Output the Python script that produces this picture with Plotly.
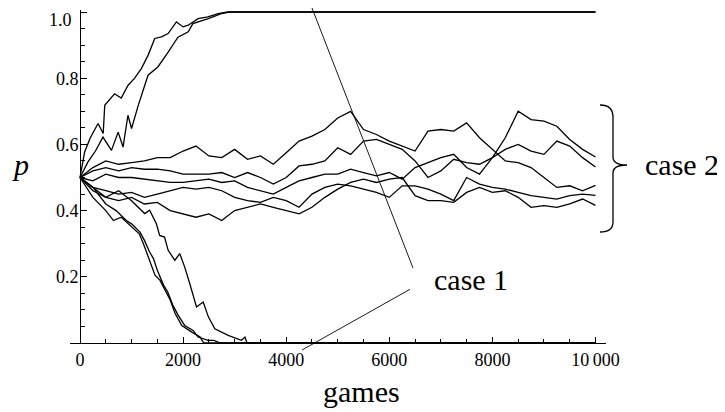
import plotly.graph_objects as go

# ---------------- data ----------------
# absorbed at p = 1
up1_games = [0, 90, 200, 350, 450, 480, 670, 800, 930, 1060, 1190, 1320, 1450, 1580, 1710, 1870, 2000, 2100, 2290, 2480, 2680, 2870, 10000]
up1_p = [0.5, 0.577, 0.62, 0.663, 0.633, 0.718, 0.753, 0.74, 0.778, 0.80, 0.829, 0.869, 0.92, 0.925, 0.935, 0.97, 0.955, 0.96, 0.98, 0.985, 0.995, 1.0, 1.0]
up2_games = [0, 155, 300, 445, 610, 740, 835, 930, 1000, 1130, 1320, 1510, 1710, 1900, 2100, 2190, 2490, 2740, 2900, 10000]
up2_p = [0.5, 0.547, 0.58, 0.622, 0.582, 0.637, 0.592, 0.688, 0.648, 0.718, 0.809, 0.834, 0.879, 0.924, 0.94, 0.965, 0.98, 0.995, 1.0, 1.0]

# absorbed at p = 0
down1_games = [0, 250, 500, 650, 800, 1000, 1150, 1230, 1330, 1455, 1550, 1620, 1750, 1845, 1975, 2170, 2330, 2400, 10000]
down1_p = [0.5, 0.44, 0.40, 0.37, 0.38, 0.35, 0.33, 0.30, 0.26, 0.205, 0.19, 0.17, 0.13, 0.089, 0.053, 0.033, 0.018, 0.0, 0.0]
down2_games = [0, 250, 500, 700, 900, 1000, 1165, 1250, 1350, 1425, 1500, 1620, 1700, 1800, 1900, 2030, 2195, 2290, 2485, 2600, 2720, 10000]
down2_p = [0.5, 0.47, 0.42, 0.40, 0.37, 0.36, 0.335, 0.31, 0.275, 0.255, 0.22, 0.175, 0.155, 0.115, 0.085, 0.053, 0.038, 0.018, 0.008, 0.008, 0.0, 0.0]
down3_games = [0, 250, 500, 750, 1000, 1255, 1350, 1480, 1545, 1640, 1710, 1840, 1935, 2030, 2130, 2260, 2390, 2490, 2615, 2875, 3130, 3200, 3240, 10000]
down3_p = [0.5, 0.46, 0.44, 0.46, 0.43, 0.391, 0.401, 0.361, 0.325, 0.32, 0.28, 0.25, 0.27, 0.23, 0.179, 0.109, 0.124, 0.079, 0.043, 0.023, 0.008, 0.018, 0.0, 0.0]

# case 2: paths that stay in the middle
mid_games = [0, 250, 500, 750, 1000, 1250, 1500, 1750, 2000, 2250, 2500, 2750, 3000, 3250, 3500, 3750, 4000,
             4250, 4500, 4750, 5000, 5250, 5500, 5750, 6000, 6250, 6500, 6750, 7000, 7250, 7500, 7750, 8000,
             8250, 8500, 8750, 9000, 9250, 9500, 9750, 10000]
mid1_p = [0.5, 0.53, 0.55, 0.54, 0.545, 0.55, 0.56, 0.56, 0.58, 0.595, 0.565, 0.56, 0.585, 0.555, 0.565, 0.54, 0.575,
          0.61, 0.625, 0.645, 0.68, 0.70, 0.645, 0.63, 0.61, 0.595, 0.58, 0.64, 0.645, 0.64, 0.665, 0.62, 0.585,
          0.55, 0.545, 0.53, 0.50, 0.47, 0.475, 0.46, 0.476]
mid2_p = [0.5, 0.52, 0.53, 0.52, 0.53, 0.525, 0.525, 0.52, 0.51, 0.51, 0.51, 0.515, 0.50, 0.515, 0.50, 0.48, 0.50,
          0.535, 0.54, 0.55, 0.59, 0.57, 0.61, 0.615, 0.60, 0.585, 0.55, 0.50, 0.52, 0.555, 0.545, 0.54, 0.56,
          0.62, 0.70, 0.675, 0.67, 0.655, 0.615, 0.585, 0.562]
mid3_p = [0.5, 0.49, 0.51, 0.50, 0.50, 0.495, 0.49, 0.485, 0.485, 0.49, 0.495, 0.485, 0.49, 0.47, 0.46, 0.45, 0.47,
          0.49, 0.50, 0.51, 0.51, 0.525, 0.515, 0.505, 0.515, 0.495, 0.53, 0.545, 0.56, 0.57, 0.53, 0.51, 0.56,
          0.585, 0.60, 0.58, 0.57, 0.61, 0.595, 0.56, 0.532]
mid4_p = [0.5, 0.47, 0.46, 0.45, 0.455, 0.44, 0.45, 0.46, 0.47, 0.465, 0.47, 0.46, 0.44, 0.43, 0.425, 0.44, 0.43,
          0.41, 0.45, 0.47, 0.48, 0.475, 0.465, 0.455, 0.44, 0.475, 0.475, 0.465, 0.45, 0.43, 0.50, 0.48, 0.47,
          0.465, 0.455, 0.445, 0.44, 0.435, 0.445, 0.45, 0.446]
mid5_p = [0.5, 0.47, 0.44, 0.43, 0.44, 0.42, 0.425, 0.40, 0.39, 0.38, 0.39, 0.37, 0.40, 0.41, 0.42, 0.41, 0.40,
          0.39, 0.41, 0.44, 0.465, 0.485, 0.495, 0.485, 0.495, 0.50, 0.445, 0.43, 0.43, 0.425, 0.455, 0.47, 0.455,
          0.46, 0.44, 0.41, 0.415, 0.41, 0.42, 0.435, 0.416]

x_tick_vals = [0, 2000, 4000, 6000, 8000, 10000]
x_tick_text = ["0", "2000", "4000", "6000", "8000", "10\u2009000"]
x_minor_vals = [500, 1000, 1500, 2500, 3000, 3500, 4500, 5000, 5500, 6500, 7000, 7500, 8500, 9000, 9500]
y_tick_vals = [0.2, 0.4, 0.6, 0.8, 1.0]
y_tick_text = ["0.2", "0.4", "0.6", "0.8", "1.0"]
y_minor_vals = [0.05, 0.1, 0.15, 0.25, 0.3, 0.35, 0.45, 0.5, 0.55, 0.65, 0.7, 0.75, 0.85, 0.9, 0.95]

# ---------------- figure ----------------
# the page body adds an 8px margin, so the figure is drawn 8px smaller and
# all layout positions below are given in window pixels, shifted by OFF
OFF = 8
W, H = 725 - OFF, 412 - OFF
PL, PR, PT, PB = 70, 606, 10, 343          # plot box in window pixels
ML, MR, MT, MB = PL - OFF, W - (PR - OFF), PT - OFF, H - (PB - OFF)
PW, PH = W - ML - MR, H - MT - MB
FONT = "Liberation Serif"


def fx(px):
    return (px - OFF - ML) / PW


def fy(py):
    return (H - MB - (py - OFF)) / PH


fig = go.Figure()
paths = [(up1_games, up1_p), (up2_games, up2_p),
         (down1_games, down1_p), (down2_games, down2_p), (down3_games, down3_p),
         (mid_games, mid1_p), (mid_games, mid2_p), (mid_games, mid3_p),
         (mid_games, mid4_p), (mid_games, mid5_p)]
for gx, gy in paths:
    fig.add_trace(go.Scatter(x=gx, y=gy, mode="lines",
                             line=dict(color="black", width=1.3),
                             showlegend=False, hoverinfo="skip"))

# the top label ("1.0") sits at the very edge of the page, so it is drawn as an
# annotation kept just inside the page instead of as an axis label
y_axis_text = [t if v < 1.0 else "" for v, t in zip(y_tick_vals, y_tick_text)]

fig.update_layout(
    width=W, height=H,
    margin=dict(l=ML, r=MR, t=MT, b=MB, pad=0, autoexpand=False),
    paper_bgcolor="white", plot_bgcolor="white",
    font=dict(family=FONT, color="black", size=18),
    xaxis=dict(range=[-194, 10204], showgrid=False, zeroline=False, automargin=False,
               showline=True, linecolor="black", linewidth=1,
               tickmode="array", tickvals=x_tick_vals, ticktext=x_tick_text,
               ticks="inside", ticklen=6, tickwidth=1, tickcolor="black",
               tickfont=dict(family=FONT, size=18, color="black"),
               ticklabelstandoff=0, ticklabeloverflow="allow",
               minor=dict(tickmode="array", tickvals=x_minor_vals, ticks="inside",
                          ticklen=4, tickwidth=1, tickcolor="black", showgrid=False)),
    yaxis=dict(range=[0, 1 + 2 / 331], showgrid=False, zeroline=False, automargin=False,
               anchor="free", position=fx(80),
               showline=True, linecolor="black", linewidth=1,
               tickmode="array", tickvals=y_tick_vals, ticktext=y_axis_text,
               ticks="inside", ticklen=6, tickwidth=1, tickcolor="black",
               tickfont=dict(family=FONT, size=18, color="black"),
               ticklabelstandoff=-2, ticklabeloverflow="allow",
               minor=dict(tickmode="array", tickvals=y_minor_vals, ticks="inside",
                          ticklen=4, tickwidth=1, tickcolor="black", showgrid=False)),
)

fig.add_annotation(text=y_tick_text[-1], xref="paper", yref="paper",
                   x=fx(73), y=fy(8.5), xanchor="right", yanchor="top", borderpad=0,
                   showarrow=False, font=dict(family=FONT, size=18, color="black"))

# annotation lines
fig.add_shape(type="line", xref="paper", yref="paper",
              x0=fx(312), y0=fy(8), x1=fx(413), y1=fy(268),
              line=dict(color="black", width=0.9), layer="above")
fig.add_shape(type="line", xref="paper", yref="paper",
              x0=fx(302), y0=fy(350), x1=fx(410), y1=fy(289.3),
              line=dict(color="black", width=0.9), layer="above")

# brace
pts = [("M", 600, 105), ("C", 609, 105, 613, 109, 613, 117), ("L", 613, 157),
       ("C", 613, 162, 617, 165, 627, 165), ("C", 617, 165, 613, 168, 613, 173),
       ("L", 613, 222), ("C", 613, 229, 609, 232, 600, 232)]
d = ""
for seg in pts:
    cmd, coords = seg[0], seg[1:]
    pairs = []
    for i in range(0, len(coords), 2):
        pairs.append(f"{fx(coords[i]):.5f},{fy(coords[i+1]):.5f}")
    d += cmd + " " + " ".join(pairs) + " "
fig.add_shape(type="path", xref="paper", yref="paper", path=d.strip(),
              line=dict(color="black", width=1.3), layer="above")

# labels
def label(text, px, py, size, italic=False):
    fig.add_annotation(text=text, xref="paper", yref="paper", x=fx(px), y=fy(py),
                       xanchor="center", yanchor="middle", showarrow=False,
                       font=dict(family=FONT, size=size, color="black",
                                 style="italic" if italic else "normal"))

label("p", 20, 165, 30, italic=True)
label("games", 361, 392, 30)
label("case 1", 471, 279, 30)
label("case 2", 682, 164, 30)

fig.write_html("out.html")
